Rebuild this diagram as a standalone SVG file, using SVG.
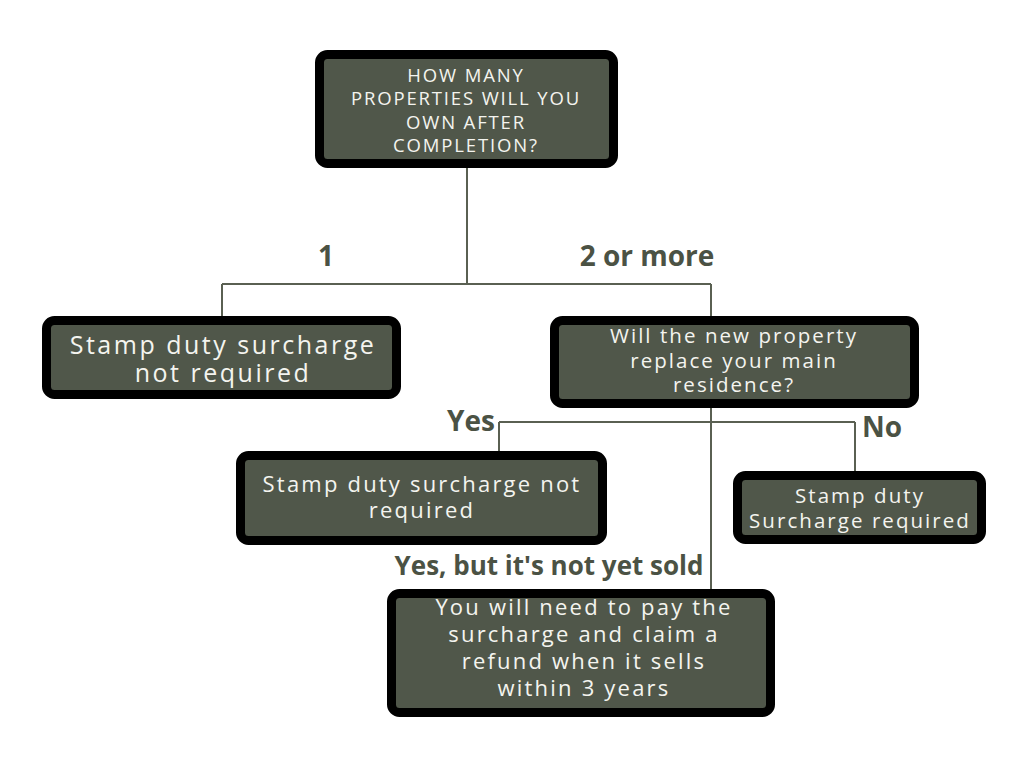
<svg xmlns="http://www.w3.org/2000/svg" width="1024" height="768" viewBox="0 0 1024 768">
<style>
.box{fill:#50574a;stroke:#000;stroke-width:9}
.t{font-family:"Open Sans","DejaVu Sans",sans-serif;fill:#f4f4ef;text-anchor:middle;letter-spacing:0.1em}
.lbl{font-family:"Open Sans","DejaVu Sans",sans-serif;font-weight:bold;fill:#4b5244;text-anchor:middle}
.c{fill:none;stroke:#5a6052;stroke-width:2}
</style>
<rect width="1024" height="768" fill="#fff"/>
<g id="connectors">
<path class="c" d="M467 168V284M222 284H711M222 284V320M711 284V596M499 422H855M499 422V456M855 422V476"/>
</g>
<g id="labels">
<text class="lbl" x="326" y="266" font-size="28">1</text>
<text class="lbl" x="647" y="266" font-size="28">2 or more</text>
<text class="lbl" x="471" y="431" font-size="28">Yes</text>
<text class="lbl" x="882" y="437" font-size="28">No</text>
<text class="lbl" x="549" y="575" font-size="26">Yes, but it's not yet sold</text>
</g>
<g id="q1">
<rect class="box" x="319.5" y="54.5" width="294" height="109" rx="8"/>
<text class="t" font-size="18.5"><tspan x="466" y="82">HOW MANY</tspan><tspan x="466" y="105">PROPERTIES WILL YOU</tspan><tspan x="466" y="128.5">OWN AFTER</tspan><tspan x="466" y="152">COMPLETION?</tspan></text>
</g>
<g id="r1">
<rect class="box" x="46.5" y="320.5" width="350" height="74" rx="8"/>
<text class="t" font-size="25"><tspan x="223" y="354">Stamp duty surcharge</tspan><tspan x="223" y="382">not required</tspan></text>
</g>
<g id="q2">
<rect class="box" x="554.5" y="320.5" width="360" height="83" rx="8"/>
<text class="t" font-size="20.5"><tspan x="734" y="343">Will the new property</tspan><tspan x="734" y="368">replace your main</tspan><tspan x="734" y="392">residence?</tspan></text>
</g>
<g id="r2">
<rect class="box" x="240.5" y="455.5" width="362" height="85" rx="8"/>
<text class="t" font-size="22"><tspan x="422" y="492">Stamp duty surcharge not</tspan><tspan x="422" y="518">required</tspan></text>
</g>
<g id="r3">
<rect class="box" x="737.5" y="475.5" width="244" height="64" rx="8"/>
<text class="t" font-size="20.5"><tspan x="860" y="503">Stamp duty</tspan><tspan x="860" y="528">Surcharge required</tspan></text>
</g>
<g id="r4">
<rect class="box" x="391.5" y="593.5" width="379" height="119" rx="8"/>
<text class="t" font-size="22"><tspan x="584" y="615">You will need to pay the</tspan><tspan x="584" y="642">surcharge and claim a</tspan><tspan x="584" y="668.5">refund when it sells</tspan><tspan x="584" y="696">within 3 years</tspan></text>
</g>
</svg>
